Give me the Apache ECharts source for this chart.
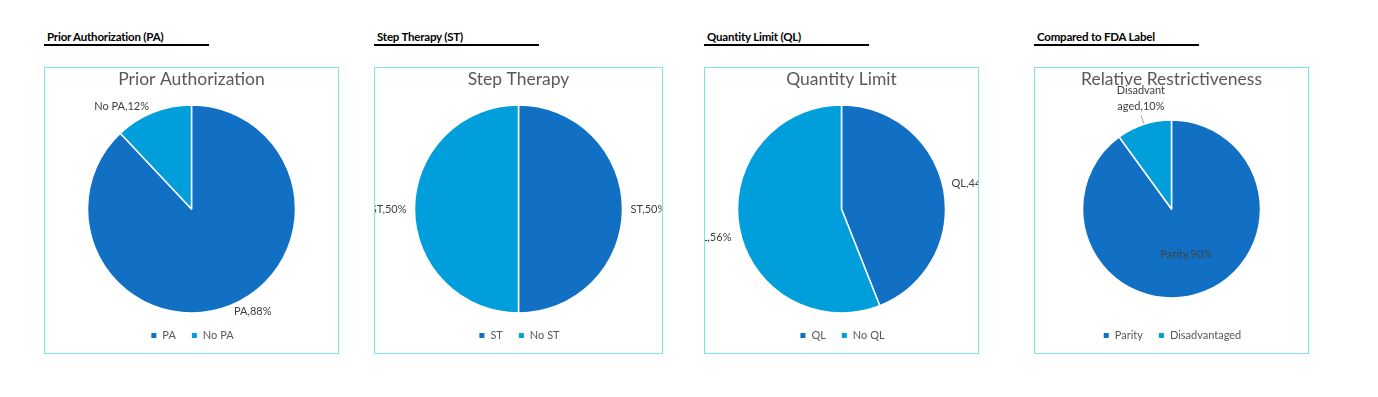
<!DOCTYPE html>
<html>
<head>
<meta charset="utf-8">
<script src="https://cdn.jsdelivr.net/npm/echarts@6/dist/echarts.min.js"></script>
<style>
  body { margin: 0; background: #fff; width: 1378px; height: 397px; position: relative; overflow: hidden; }
  .hdr { position: absolute; top: 30px; font: bold 11.5px 'Lato', sans-serif; color: #000; white-space: nowrap; letter-spacing: -0.2px; }
  .rule { position: absolute; top: 44px; width: 165px; height: 2px; background: #000; }
  .box { position: absolute; top: 67px; height: 285px; border: 1px solid #7fe3ea; overflow: hidden; }
  .box > div { width: 100%; height: 100%; }
</style>
</head>
<body>
<script>
// panel text
const panelHeaders = ['Prior Authorization (PA)', 'Step Therapy (ST)', 'Quantity Limit (QL)', 'Compared to FDA Label']
const chartTitles = ['Prior Authorization', 'Step Therapy', 'Quantity Limit', 'Relative Restrictiveness']

// slices per chart
const sliceNames = [
  ['PA', 'No PA'],
  ['ST', 'No ST'],
  ['QL', 'No QL'],
  ['Parity', 'Disadvantaged']
]
const sliceValues = [
  [88, 12],
  [50, 50],
  [44, 56],
  [90, 10]
]

// layout of the four boxes (left, width) and pie radius
const boxLeft = [44, 374, 704, 1034]
const boxWidth = [293, 287, 273, 273]
const pieRadius = [104, 104, 104, 89]

const colors = ['#1170c4', '#009fdb']

panelHeaders.forEach((txt, i) => {
  const h = document.createElement('div')
  h.className = 'hdr'
  h.style.left = (boxLeft[i] + 3) + 'px'
  h.textContent = txt
  document.body.appendChild(h)
  const r = document.createElement('div')
  r.className = 'rule'
  r.style.left = boxLeft[i] + 'px'
  document.body.appendChild(r)
})

function buildOption(i) {
  const lastChart = i === 3
  const data = sliceNames[i].map((n, k) => {
    const item = { name: n, value: sliceValues[i][k] }
    if (lastChart && k === 0) item.label = { position: 'inside' }
    if (lastChart && k === 1) {
      item.label = { overflow: 'breakAll', width: 50 }
      item.labelLine = { show: true, length: 10, length2: 0 }
    }
    return item
  })
  return {
    color: colors,
    animation: false,
    title: {
      text: chartTitles[i],
      left: 'center',
      top: 2,
      padding: 0,
      textStyle: { fontFamily: 'Lato', fontSize: 17.5, fontWeight: 'normal', color: '#595959' }
    },
    legend: {
      data: sliceNames[i],
      left: 'center',
      top: 257,
      padding: [5, 0, 5, 24],
      icon: 'rect',
      itemWidth: 7,
      itemHeight: 7,
      itemGap: 14,
      textStyle: { fontFamily: 'Lato', fontSize: 11, color: '#595959' }
    },
    series: [{
      type: 'pie',
      radius: pieRadius[i],
      center: [boxWidth[i] / 2, 141],
      startAngle: 90,
      clockwise: true,
      avoidLabelOverlap: false,
      itemStyle: { borderColor: '#fff', borderWidth: 1.5 },
      label: {
        formatter: '{b},{d}%',
        position: 'outside',
        overflow: 'none',
        lineHeight: 16,
        fontFamily: 'Lato',
        fontSize: 11,
        color: '#404040',
        distanceToLabelLine: 0
      },
      labelLine: { show: false, length: 6, length2: 2, lineStyle: { color: '#a6a6a6', width: 1 } },
      labelLayout: (p) => {
        if (lastChart && p.dataIndex === 1) return { align: 'center', verticalAlign: 'bottom' }
        if (i === 2) return { dy: p.dataIndex === 0 ? -5 : 8 }
        return {}
      },
      data: data
    }]
  }
}

boxLeft.forEach((left, i) => {
  const box = document.createElement('div')
  box.className = 'box'
  box.style.left = left + 'px'
  box.style.width = boxWidth[i] + 'px'
  const el = document.createElement('div')
  box.appendChild(el)
  document.body.appendChild(box)
  const chart = echarts.init(el)
  chart.setOption(buildOption(i))
})
</script>
</body>
</html>
